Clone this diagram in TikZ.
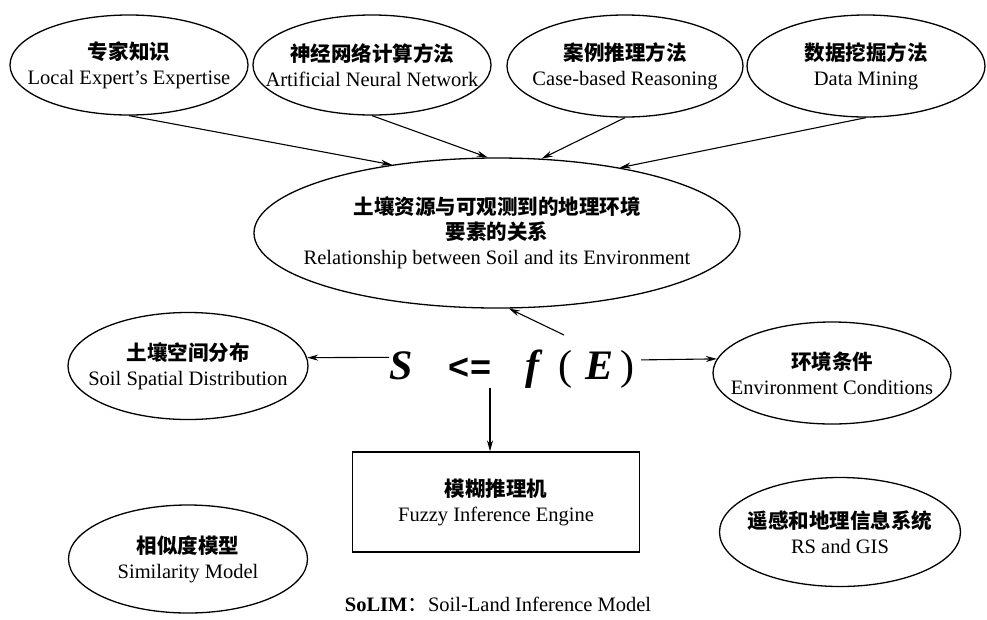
\documentclass[tikz,border=0pt]{standalone}
\usepackage{fontspec}
\setmainfont{Liberation Serif}
\newfontfamily\cjk{Noto Sans CJK SC}
\newfontfamily\sansb{Liberation Sans}
\usetikzlibrary{shapes.geometric,arrows.meta}
\tikzset{
    ell/.style={draw,ellipse,line width=1.3pt,inner xsep=-30pt,inner ysep=0pt,align=center,font=\fontsize{20.5}{25}\selectfont},
    arr/.style={-{Stealth[length=11pt,width=6pt]},line width=1.1pt},
    frm/.style={inner sep=0pt,anchor=base,font=\fontsize{42}{42}\selectfont\bfseries\itshape}
}
\begin{document}
\begin{tikzpicture}[x=1pt,y=-1pt]
    \useasboundingbox(0,0)rectangle(987,619);
    % top row: sources of knowledge
    \node[ell,minimum width=238pt,minimum height=100pt](expert)at(129,65){{\cjk\bfseries 专家知识}\\Local Expert's Expertise};
    \node[ell,minimum width=238pt,minimum height=100pt](ann)at(372,65){{\cjk\bfseries 神经网络计算方法}\\Artificial Neural Network};
    \node[ell,minimum width=236pt,minimum height=102pt](case)at(625,66){{\cjk\bfseries 案例推理方法}\\Case-based Reasoning};
    \node[ell,minimum width=238pt,minimum height=102pt](mining)at(866,66){{\cjk\bfseries 数据挖掘方法}\\Data Mining};
    % relationship
    \node[ell,minimum width=486pt,minimum height=150pt](rel)at(497,233){{\cjk\bfseries 土壤资源与可观测到的地理环境}\\{\cjk\bfseries 要素的关系}\\Relationship between Soil and its Environment};
    \draw[arr](expert.south)--(rel.147);
    \draw[arr](ann.south)--(rel.97);
    \draw[arr](case.south)--(rel.59);
    \draw[arr](mining.south)--(rel.28);
    % S <= f(E)
    \node[frm](fS)at(401,379){S};
    \node[frm,font=\fontsize{36}{36}\selectfont\sansb\bfseries](fle)at(470,379){<=};
    \node[frm](ff)at(532,379){f};
    \node[frm,font=\fontsize{42}{42}\selectfont](fL)at(565,379){(};
    \node[frm](fE)at(599,379){E};
    \node[frm,font=\fontsize{42}{42}\selectfont](fR)at(627,379){)};
    \coordinate(up)at(564,335);
    \coordinate(down)at(490,388);
    % side and bottom
    \node[ell,minimum width=240pt,minimum height=107pt](soil)at(188,366){{\cjk\bfseries 土壤空间分布}\\Soil Spatial Distribution};
    \node[ell,minimum width=238pt,minimum height=102pt](env)at(832,373){{\cjk\bfseries 环境条件}\\Environment Conditions};
    \node[draw,line width=1.3pt,minimum width=287pt,minimum height=100pt,align=center,font=\fontsize{20.5}{25}\selectfont](fuzzy)at(496,502){{\cjk\bfseries 模糊推理机}\\Fuzzy Inference Engine};
    \node[ell,minimum width=239pt,minimum height=108pt](sim)at(188,559){{\cjk\bfseries 相似度模型}\\Similarity Model};
    \node[ell,minimum width=241pt,minimum height=109pt](gis)at(840,532){{\cjk\bfseries 遥感和地理信息系统}\\RS and GIS};
    \draw[arr]([yshift=8pt]fS.west)--(soil.4);
    \draw[arr]([xshift=7pt,yshift=9pt]fR.east)--(env.173);
    \draw[arr](up)--(rel.-81);
    \draw[arr](down)--(down|-fuzzy.north);
    \node[font=\fontsize{20.5}{25}\selectfont](cap)at(498,604){\textbf{SoLIM}{\cjk ：}Soil-Land Inference Model};
\end{tikzpicture}
\end{document}
